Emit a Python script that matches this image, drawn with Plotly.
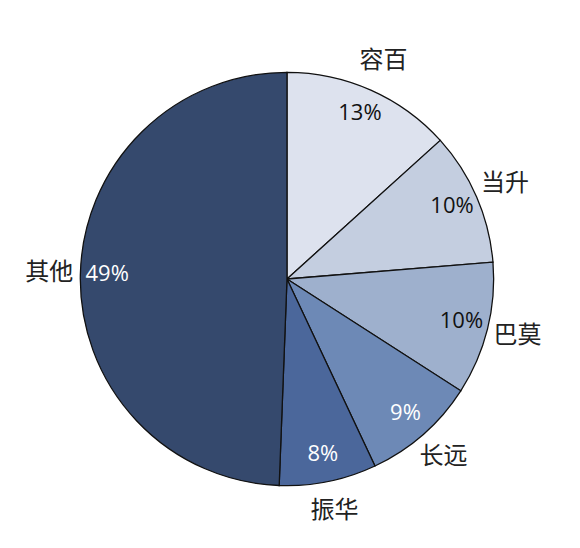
import plotly.graph_objects as go

companies = ["容百", "当升", "巴莫", "长远", "振华", "其他"]
shares = [13.3, 10.4, 10.4, 8.9, 7.6, 49.4]
slice_colors = ["#dde2ee", "#c4cee0", "#9eb0cd", "#6d89b6", "#4b679b", "#35496d"]
pct_colors = ["#111111", "#111111", "#111111", "white", "white", "white"]

total = sum(shares)
widths = [s / total * 360 for s in shares]
mids = []
start = 0
for w in widths:
    mids.append(start + w / 2)
    start += w
pct_text = [f"{s / total * 100:.0f}%" for s in shares]

fig = go.Figure()
fig.add_trace(go.Barpolar(
    r=[1] * len(shares), theta=mids, width=widths,
    marker=dict(color=slice_colors, line=dict(color="#111111", width=1.3)),
    hovertext=companies, showlegend=False,
))
fig.add_trace(go.Scatterpolar(
    r=[0.87] * len(shares), theta=mids, mode="text", text=pct_text,
    textfont=dict(size=22, color=pct_colors, family="Open Sans, Noto Sans, sans-serif"),
    showlegend=False, hoverinfo="skip",
))
fig.add_trace(go.Scatterpolar(
    r=[1.15] * len(shares), theta=mids, mode="text", text=companies,
    textfont=dict(size=24, color="#222222", family="Noto Sans CJK SC, sans-serif"),
    cliponaxis=False, showlegend=False, hoverinfo="skip",
))

fig.update_layout(
    width=580, height=548,
    margin=dict(l=0, r=0, t=0, b=0),
    paper_bgcolor="white",
    polar=dict(
        domain=dict(x=[0.0534, 0.9086], y=[0.0529, 0.9581]),
        bgcolor="rgba(0,0,0,0)",
        bargap=0,
        radialaxis=dict(range=[0, 1.2], visible=False),
        angularaxis=dict(direction="clockwise", rotation=90, visible=False),
    ),
)
fig.write_html("out.html")
